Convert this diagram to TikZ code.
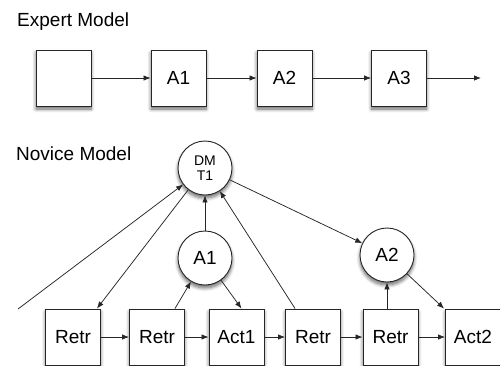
\documentclass[tikz,border=0pt]{standalone}
\usepackage{fontspec}
\setmainfont{Liberation Sans}
\usetikzlibrary{arrows.meta,shadows.blur}
\begin{document}
\begin{tikzpicture}[x=1pt,y=-1pt,
  sh/.style={blur shadow={shadow xshift=0pt,shadow yshift=-3pt,shadow blur radius=3.5pt,shadow blur steps=8,shadow opacity=60}},
  box/.style={draw=black!85,line width=0.9pt,fill=white,minimum width=55pt,minimum height=56pt,inner sep=0pt,font=\fontsize{19}{21}\selectfont,sh},
  circ/.style={circle,draw=black!85,line width=0.9pt,fill=white,minimum size=54pt,inner sep=0pt,font=\fontsize{19}{21}\selectfont,sh},
  arr/.style={-{Latex[length=7pt,width=5.5pt]},line width=0.75pt,draw=black!85},
  ttl/.style={anchor=base west,inner sep=0pt,font=\fontsize{19}{21}\selectfont}]
\useasboundingbox (0,0) rectangle (500,365);
\clip (0,0) rectangle (500,365);
% titles
\node[ttl] (t1) at (17,26) {Expert Model};
\node[ttl] (t2) at (16,160) {Novice Model};
% expert row
\node[box] (e0) at (63.5,78) {};
\node[box] (e1) at (178.5,78) {A1};
\node[box] (e2) at (284.5,78) {A2};
\node[box] (e3) at (399,78) {A3};
\coordinate (eend) at (481,78);
\draw[arr] (e0) -- (e1);
\draw[arr] (e1) -- (e2);
\draw[arr] (e2) -- (e3);
\draw[arr] (e3) -- (eend);
% novice
\node[circ,font=\fontsize{14}{15}\selectfont,align=center] (dm) at (205,168) {DM\\T1};
\node[circ] (a1) at (205,258) {A1};
\node[circ] (a2) at (387,255) {A2};
\node[box] (r1) at (73,337) {Retr};
\node[box] (r2) at (157,337) {Retr};
\node[box] (c1) at (236.5,337) {Act1};
\node[box] (r3) at (313,337) {Retr};
\node[box] (r4) at (390.5,337) {Retr};
\node[box] (c2) at (473,337) {Act2};
\draw[arr] (r1) -- (r2);
\draw[arr] (r2) -- (c1);
\draw[arr] (c1) -- (r3);
\draw[arr] (r3) -- (r4);
\draw[arr] (r4) -- (c2);
\coordinate (free) at (18,309);
\draw[arr] (free) -- (dm);
\draw[arr] (dm) -- ([xshift=-4pt]r1.north east);
\draw[arr] ([xshift=-10pt]r2.north east) -- (a1);
\draw[arr] (a1) -- (dm);
\draw[arr] (a1) -- ([xshift=5pt]c1.north);
\draw[arr] ([xshift=10pt]r3.north west) -- (dm);
\draw[arr] (dm) -- (a2);
\draw[arr] (a2.south |- r4.north) -- (a2.south);
\draw[arr] (a2) -- ([xshift=-1pt]c2.north west);
\end{tikzpicture}
\end{document}
